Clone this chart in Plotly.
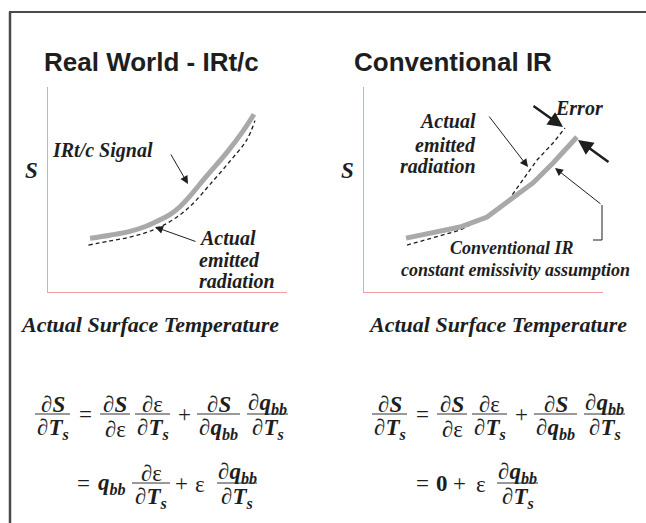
import plotly.graph_objects as go

W, H = 646, 523
SERIF = "Liberation Serif, Times New Roman, serif"
SANS = "Liberation Sans, Arial, sans-serif"
INK = "#1e1e1e"
PINK = "#f2a0a4"
GREY = "#a9a9a9"

# ---- data (axis units 0..10) ----
left_signal_x = [1.76, 2.59, 3.43, 4.13, 4.82, 5.10, 5.52, 5.94, 6.64, 7.48, 8.16, 8.62]
left_signal_y = [2.62, 2.77, 2.96, 3.22, 3.60, 3.77, 4.16, 4.68, 5.66, 6.80, 7.85, 8.67]
left_actual_x = [1.69, 2.59, 3.43, 4.13, 4.82, 5.52, 6.08, 6.78, 7.62, 8.31, 8.66]
left_actual_y = [2.29, 2.49, 2.68, 2.91, 3.25, 3.76, 4.33, 5.25, 6.39, 7.41, 8.36]

right_conv_x = [1.76, 2.76, 4.02, 5.15, 6.11, 7.07, 7.91, 8.49, 8.91]
right_conv_y = [2.63, 2.88, 3.17, 3.66, 4.49, 5.32, 6.29, 7.07, 7.56]
right_actual_x = [1.80, 2.89, 4.02, 4.85, 5.56, 6.11, 6.65, 7.24, 7.91, 8.41]
right_actual_y = [2.29, 2.63, 3.02, 3.51, 4.00, 4.59, 5.46, 6.44, 7.27, 8.00]

titles = ["Real World - IRt/c", "Conventional IR"]
x_label = "Actual Surface Temperature"
y_label = "S"


def P(px):
    return px / W


def Q(py):
    return 1 - py / H


fig = go.Figure()
fig.add_trace(go.Scatter(x=left_actual_x, y=left_actual_y, mode="lines",
                         line=dict(color=INK, width=1.3, dash="4px,3px", shape="spline", smoothing=1),
                         xaxis="x", yaxis="y", hoverinfo="skip"))
fig.add_trace(go.Scatter(x=left_signal_x, y=left_signal_y, mode="lines",
                         line=dict(color=GREY, width=5, shape="spline", smoothing=1),
                         xaxis="x", yaxis="y", hoverinfo="skip"))
fig.add_trace(go.Scatter(x=right_actual_x, y=right_actual_y, mode="lines",
                         line=dict(color=INK, width=1.3, dash="4px,3px"),
                         xaxis="x2", yaxis="y2", hoverinfo="skip"))
fig.add_trace(go.Scatter(x=right_conv_x, y=right_conv_y, mode="lines",
                         line=dict(color=GREY, width=5),
                         xaxis="x2", yaxis="y2", hoverinfo="skip"))

ax_common = dict(range=[0, 10], showgrid=False, zeroline=False, showticklabels=False,
                 ticks="", showline=True, linecolor=PINK, linewidth=1.2, fixedrange=True)
ydom = [Q(292), Q(87)]

ann = []


def txt(x, y, s, size=20, family=SERIF, xanchor="center", yanchor="middle"):
    ann.append(dict(xref="paper", yref="paper", x=P(x), y=Q(y), text=s, showarrow=False,
                    font=dict(family=family, size=size, color=INK),
                    xanchor=xanchor, yanchor=yanchor))


def arrow(hx, hy, tx, ty, width=1.0, size=1.6, head=2):
    ann.append(dict(xref="paper", yref="paper", x=P(hx), y=Q(hy), ax=tx - hx, ay=ty - hy,
                    text="", showarrow=True, arrowhead=head, arrowsize=size,
                    arrowwidth=width, arrowcolor=INK, standoff=0, startstandoff=0))


def bi(s):
    return "<b><i>" + s + "</i></b>"


# titles
txt(42, 62, "<b>" + titles[0] + "</b>", size=26, family=SANS, xanchor="left")
txt(352, 62, "<b>" + titles[1] + "</b>", size=26, family=SANS, xanchor="left")
# y labels
txt(31, 170, bi(y_label), size=23)
txt(347, 170, bi(y_label), size=23)
# x labels
txt(18, 324, bi(x_label), size=22, xanchor="left")
txt(366, 324, bi(x_label), size=22, xanchor="left")

# left panel labels
txt(50, 150, bi("IRt/c Signal"), size=20, xanchor="left")
txt(197, 238, bi("Actual"), size=20, xanchor="left")
txt(197, 260, bi("emitted"), size=20, xanchor="left")
txt(197, 281, bi("radiation"), size=20, xanchor="left")
arrow(188, 184, 170, 153)
arrow(155, 227, 197, 242)

# right panel labels
txt(478, 121, bi("Actual"), size=20, xanchor="right")
txt(478, 145, bi("emitted"), size=20, xanchor="right")
txt(478, 166, bi("radiation"), size=20, xanchor="right")
txt(553, 108, bi("Error"), size=20, xanchor="left")
txt(512, 248, bi("Conventional IR"), size=18)
txt(515, 270, bi("constant emissivity assumption"), size=18)
arrow(528, 167, 488, 115)
arrow(563, 127, 532, 105, width=2.5, size=1.2)
arrow(578, 140, 610, 163, width=2.5, size=1.2)
arrow(555, 168, 602, 205)

shapes = [
    dict(type="line", xref="paper", yref="paper", x0=P(10), y0=Q(12), x1=P(10), y1=Q(523),
         line=dict(color="#4a4a4a", width=2.5)),
    dict(type="line", xref="paper", yref="paper", x0=P(9), y0=Q(12), x1=P(646), y1=Q(12),
         line=dict(color="#4a4a4a", width=2)),
    dict(type="path", xref="paper", yref="paper",
         path=f"M {P(602)} {Q(205)} L {P(602)} {Q(240)} L {P(593)} {Q(240)}",
         line=dict(color=INK, width=1)),
    dict(type="rect", xref="paper", yref="paper", x0=P(634), x1=P(646), y0=Q(523), y1=Q(14),
         fillcolor="white", line=dict(width=0), layer="above"),
]

# equations
D = "\u2202"
EPS = "\u03b5"
S_ = D + bi("S")
T_ = D + bi("T") + "<sub>" + bi("s") + "</sub>"
Q_ = D + bi("q") + "<sub>" + bi("bb") + "</sub>"
E_ = D + EPS
EQ = 23


def frac(x0, x1, yb, num, den):
    shapes.append(dict(type="line", xref="paper", yref="paper", x0=P(x0), y0=Q(yb),
                       x1=P(x1), y1=Q(yb), line=dict(color="#333", width=1)))
    c = (x0 + x1) / 2
    txt(c, yb - 10, num, size=EQ)
    txt(c, yb + 15, den, size=EQ)


for off in (0, 337):
    y1 = 414
    frac(35 + off, 70 + off, y1, S_, T_)
    txt(85 + off, y1, "=", size=EQ)
    frac(100 + off, 130 + off, y1, S_, E_)
    frac(135 + off, 170 + off, y1, E_, T_)
    txt(184 + off, y1, "+", size=EQ)
    frac(197 + off, 240 + off, y1, S_, Q_)
    frac(247 + off, 288 + off, y1, Q_, T_)

y2 = 483
txt(83, y2, "=", size=EQ)
txt(112, y2 + 1, bi("q") + "<sub>" + bi("bb") + "</sub>", size=EQ)
frac(132, 170, y2, E_, T_)
txt(181, y2, "+", size=EQ)
txt(200, y2 + 1, EPS, size=EQ)
frac(217, 257, y2, Q_, T_)

txt(422, y2, "=", size=EQ)
txt(442, y2, "<b>0</b>", size=EQ)
txt(459, y2, "+", size=EQ)
txt(481, y2 + 1, EPS, size=EQ)
frac(497, 538, y2, Q_, T_)

fig.update_layout(
    width=W, height=H, margin=dict(l=0, r=0, t=0, b=0),
    paper_bgcolor="white", plot_bgcolor="white", showlegend=False,
    xaxis=dict(domain=[P(48), P(287)], anchor="y", **ax_common),
    yaxis=dict(domain=ydom, anchor="x", **ax_common),
    xaxis2=dict(domain=[P(364), P(603)], anchor="y2", **ax_common),
    yaxis2=dict(domain=ydom, anchor="x2", **ax_common),
    annotations=ann, shapes=shapes,
)

fig.write_html("out.html", config={"displayModeBar": False},
               post_script=("document.body.style.margin='0';"
                            "document.body.style.overflow='hidden';"
                            "document.documentElement.style.overflow='hidden';"))
